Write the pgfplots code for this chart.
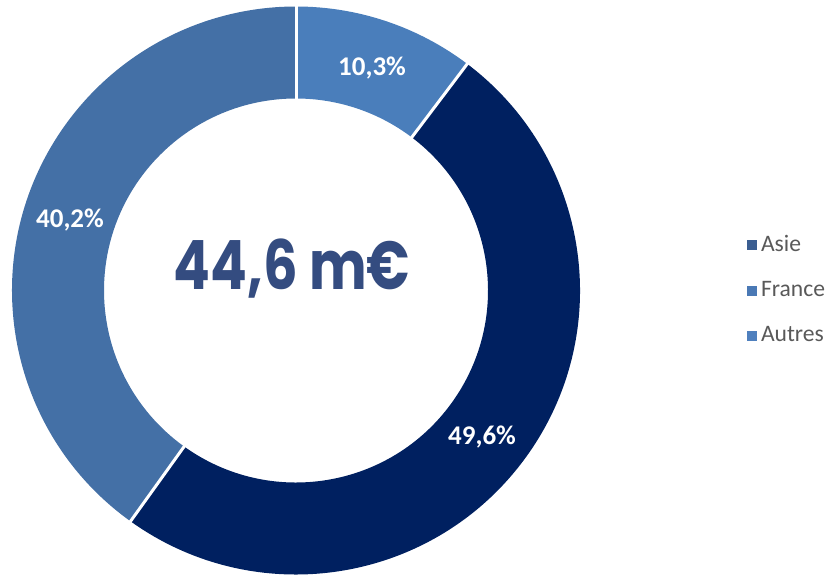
\documentclass[border=0pt]{standalone}
\usepackage{fontspec}
\setmainfont{Carlito}
\newfontfamily\poppins{Poppins}
\usepackage{pgfplots}
\pgfplotsset{compat=1.18}
\usetikzlibrary{calc}

\definecolor{cNavy}{HTML}{002060}
\definecolor{cMid}{HTML}{4470A6}
\definecolor{cLight}{HTML}{4A7EBB}
\definecolor{cAsie}{HTML}{3B5E91}
\definecolor{cFrance}{HTML}{4A79B5}
\definecolor{cAutres}{HTML}{4F80BE}
\definecolor{cTitle}{HTML}{344C80}
\definecolor{cLegend}{HTML}{595959}

% donut sector: start %, end %, colour (clockwise from the top)
\newcommand\sector[3]{%
  \fill[#3] ($(axis cs:296,283.5)+({90-3.6*(#1)}:142pt)$)
    arc[start angle={90-3.6*(#1)}, end angle={90-3.6*(#2)}, radius=142pt]
    -- ($(axis cs:296,283.5)+({90-3.6*(#2)}:96pt)$)
    arc[start angle={90-3.6*(#2)}, end angle={90-3.6*(#1)}, radius=96pt]
    -- cycle;}
\newcommand\gap[1]{%
  \draw[white, line width=1.5pt]
    ($(axis cs:296,283.5)+({90-3.6*(#1)}:95pt)$) -- ($(axis cs:296,283.5)+({90-3.6*(#1)}:143pt)$);}

\begin{document}
\begin{tikzpicture}
\begin{axis}[
  x=0.5pt, y=0.5pt,
  xmin=0, xmax=833, ymin=0, ymax=574,
  hide axis, clip=false,
  legend style={at={(axis cs:747,284)}, anchor=west, draw=none, fill=none,
    inner sep=0pt, font=\fontsize{11.8}{13}\selectfont, text=cLegend,
    row sep=9.6pt, cells={anchor=west},
    /tikz/every even column/.append style={column sep=1.5pt}},
  legend cell align=left,
]
\coordinate (ll) at (axis cs:0,0);
\coordinate (ur) at (axis cs:833,574);

% shares: 10,3 / 49,6 / 40,2
\sector{0}{10.3}{cLight}
\sector{10.3}{59.9}{cNavy}
\sector{59.9}{100}{cMid}
\gap{0}
\gap{10.3}
\gap{59.9}

\node[white, font=\bfseries\fontsize{13.5}{15}\selectfont] at (axis cs:372,506) {10,3\%};
\node[white, font=\bfseries\fontsize{13.5}{15}\selectfont] at (axis cs:482,137) {49,6\%};
\node[white, font=\bfseries\fontsize{13.5}{15}\selectfont] at (axis cs:70,354) {40,2\%};

\node[text=cTitle, font=\poppins\bfseries\fontsize{34}{36}\selectfont, xscale=0.8] at (axis cs:292,305) {44,6 m€};

\addlegendimage{legend image code/.code={\fill[cAsie] (0pt,-2.2pt) rectangle (4.4pt,2.2pt);}}
\addlegendentry{Asie}
\addlegendimage{legend image code/.code={\fill[cFrance] (0pt,-2.2pt) rectangle (4.4pt,2.2pt);}}
\addlegendentry{France}
\addlegendimage{legend image code/.code={\fill[cAutres] (0pt,-2.2pt) rectangle (4.4pt,2.2pt);}}
\addlegendentry{Autres}
\end{axis}
\pgfresetboundingbox
\path[use as bounding box] (ll) rectangle (ur);
\end{tikzpicture}
\end{document}
